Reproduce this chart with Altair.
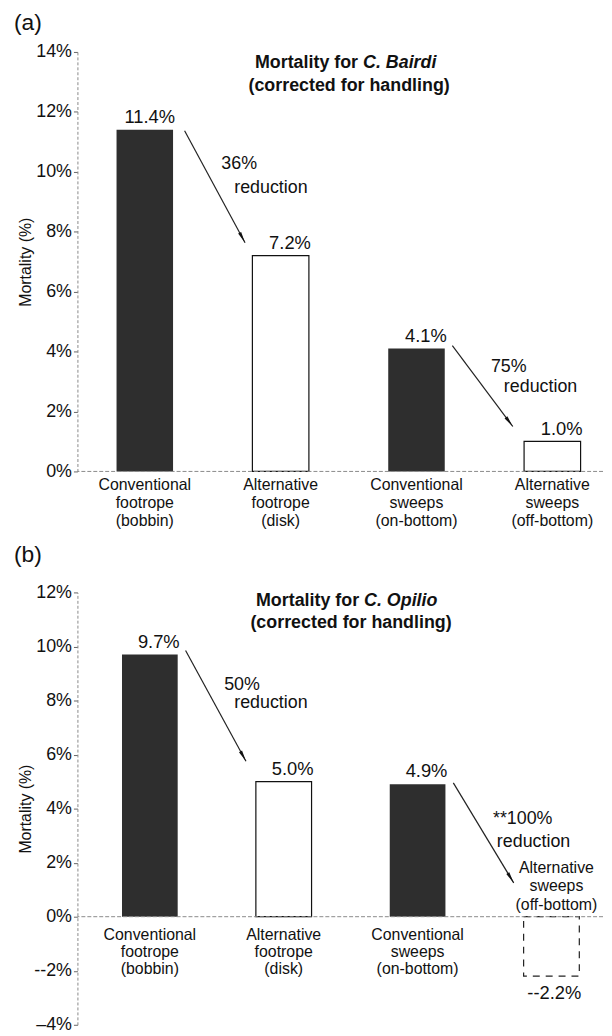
import math
import altair as alt
import pandas as pd

FONT = "Liberation Sans"
INK = "#111111"

# ---------------- data ----------------
categories = [
    "Conventional\nfootrope\n(bobbin)",
    "Alternative\nfootrope\n(disk)",
    "Conventional\nsweeps\n(on-bottom)",
    "Alternative\nsweeps\n(off-bottom)",
]
gear_type = ["Conventional", "Alternative", "Conventional", "Alternative"]

bairdi_values = [11.4, 7.2, 4.1, 1.0]
bairdi_labels = ["11.4%", "7.2%", "4.1%", "1.0%"]
opilio_values = [9.7, 5.0, 4.9, -2.2]
opilio_labels = ["9.7%", "5.0%", "4.9%", "--2.2%"]

bairdi_ticks = [0, 2, 4, 6, 8, 10, 12, 14]
bairdi_tick_labels = ["0%", "2%", "4%", "6%", "8%", "10%", "12%", "14%"]
opilio_ticks = [-4, -2, 0, 2, 4, 6, 8, 10, 12]
opilio_tick_labels = ["\u20134%", "--2%", "0%", "2%", "4%", "6%", "8%", "10%", "12%"]

# annotation arrows (data units: category index, percent)
bairdi_arrow_start_x = [0.293, 2.264]
bairdi_arrow_start_y = [11.37, 4.2]
bairdi_arrow_end_x = [0.738, 2.709]
bairdi_arrow_end_y = [7.63, 1.5]
bairdi_notes = ["36%", "reduction", "75%", "reduction"]
bairdi_note_x = [0.563, 0.658, 2.548, 2.643]
bairdi_note_y = [10.27, 9.47, 3.47, 2.8]

opilio_arrow_start_x = [0.267, 2.267]
opilio_arrow_start_y = [9.85, 4.95]
opilio_arrow_end_x = [0.718, 2.718]
opilio_arrow_end_y = [5.75, 1.25]
opilio_notes = ["50%", "reduction", "**100%", "reduction"]
opilio_note_x = [0.555, 0.63, 2.563, 2.592]
opilio_note_y = [8.58, 7.92, 3.6, 2.78]

# inner titles: (line1 left part, italic species, line2, split x, line1 y, centre x, line2 y)
bairdi_title = ("Mortality for", "C. Bairdi", "(corrected for handling)", 1.570, 13.63, 1.504, 12.87)
opilio_title = ("Mortality for", "C. Opilio", "(corrected for handling)", 1.563, 11.68, 1.503, 10.88)

HALF_BAR = 0.208


def make_panel(values, labels, ticks, tick_labels, xdom, ydom, W, H,
               arrows, notes, title, letter, line_h, cat_dy, title_x, letter_offset):
    df = pd.DataFrame({
        "pos": list(range(len(categories))),
        "category": categories,
        "gear": gear_type,
        "value": values,
        "label": labels,
    })
    xs = alt.Scale(domain=xdom, nice=False, zero=False)
    ys = alt.Scale(domain=ydom, nice=False, zero=False)
    expr = " : ".join(f"datum.value == {v} ? '{t}'" for v, t in zip(ticks, tick_labels)) + " : ''"
    yaxis = alt.Axis(
        values=ticks, labelExpr=expr, grid=False,
        domainColor="#8a8a8a", domainDash=[3, 2], domainWidth=1,
        tickColor="#666666", tickSize=4, tickWidth=1,
        labelFontSize=18, labelColor=INK, labelPadding=2, labelFont=FONT,
        title="Mortality (%)", titleFontSize=16, titleFontWeight="normal",
        titleColor=INK, titleFont=FONT, titleX=title_x, titleBaseline="middle",
    )

    def X(f):
        return alt.X(field=f, type="quantitative", scale=xs, axis=None)

    def Y(f):
        return alt.Y(field=f, type="quantitative", scale=ys, axis=yaxis)

    base = alt.Chart(df).transform_calculate(
        x1=f"datum.pos - {HALF_BAR}", x2=f"datum.pos + {HALF_BAR}"
    )

    dark = base.transform_filter("datum.gear == 'Conventional'").mark_rect(
        fill="#2e2e2e"
    ).encode(x=X("x1"), x2="x2", y=Y("value"), y2=alt.datum(0))
    white = base.transform_filter("datum.gear == 'Alternative' && datum.value >= 0").mark_rect(
        fill="white", stroke=INK, strokeWidth=1.2
    ).encode(x=X("x1"), x2="x2", y=Y("value"), y2=alt.datum(0))
    dashed = base.transform_filter("datum.gear == 'Alternative' && datum.value < 0").mark_rect(
        fill="white", stroke="#222222", strokeWidth=1.2, strokeDash=[7, 6]
    ).encode(x=X("x1"), x2="x2", y=Y("value"), y2=alt.datum(0))

    zero = alt.Chart(pd.DataFrame({"z": [0]})).mark_rule(
        color="#8a8a8a", strokeDash=[4, 2], strokeWidth=1
    ).encode(y=Y("z"))

    vlab_pos = base.transform_filter("datum.value >= 0").mark_text(
        align="right", baseline="alphabetic", dx=2, dy=-7, fontSize=18.5, font=FONT, color=INK
    ).encode(x=X("x2"), y=Y("value"), text="label:N")
    vlab_neg = base.transform_filter("datum.value < 0").mark_text(
        align="right", baseline="top", dx=2, dy=8, fontSize=18.5, font=FONT, color=INK
    ).encode(x=X("x2"), y=Y("value"), text="label:N")

    cat_pos = base.transform_filter("datum.value >= 0").mark_text(
        align="center", baseline="top", dy=cat_dy, lineBreak="\n", lineHeight=line_h,
        fontSize=16, font=FONT, color=INK
    ).encode(x=X("pos"), y=alt.datum(0), text="category:N")
    cat_neg = base.transform_filter("datum.value < 0").mark_text(
        align="center", baseline="bottom", dy=-41, dx=5, lineBreak="\n", lineHeight=18.5,
        fontSize=16, font=FONT, color=INK
    ).encode(x=X("pos"), y=alt.datum(0), text="category:N")

    sx, sy, ex, ey = arrows
    kx = W / (xdom[1] - xdom[0])
    ky = H / (ydom[1] - ydom[0])
    angles = []
    for a, b, c, d in zip(sx, sy, ex, ey):
        dxp = (c - a) * kx
        dyp = -(d - b) * ky
        angles.append(math.degrees(math.atan2(dxp, -dyp)) % 360)
    adf = pd.DataFrame({"x": sx, "y": sy, "xe": ex, "ye": ey, "angle": angles})
    arrow_lines = alt.Chart(adf).mark_rule(color="#222222", strokeWidth=1.2).encode(
        x=X("x"), y=Y("y"), x2="xe", y2="ye"
    )
    arrow_heads = alt.Chart(adf).mark_point(
        shape="M0,0L-0.32,2.1L0.32,2.1Z", filled=True, size=120, color="#111111", opacity=1
    ).encode(x=X("xe"), y=Y("ye"), angle=alt.Angle("angle:Q", scale=None))

    ntext, nx, ny = notes
    ndf = pd.DataFrame({"t": ntext, "x": nx, "y": ny})
    note_layer = alt.Chart(ndf).mark_text(
        align="left", baseline="middle", fontSize=18, font=FONT, color=INK
    ).encode(x=X("x"), y=Y("y"), text="t:N")

    t1, t1i, t2, tsx, ty1, tcx, ty2 = title
    tdf = pd.DataFrame({"a": [t1], "b": [t1i], "c": [t2], "sx": [tsx], "y1": [ty1], "cx": [tcx], "y2": [ty2]})
    tA = alt.Chart(tdf).mark_text(align="right", baseline="middle", fontSize=18, fontWeight="bold",
                                  font=FONT, color=INK).encode(x=X("sx"), y=Y("y1"), text="a:N")
    tB = alt.Chart(tdf).mark_text(align="left", baseline="middle", dx=5, fontSize=18, fontWeight="bold",
                                  fontStyle="italic", font=FONT, color=INK).encode(x=X("sx"), y=Y("y1"), text="b:N")
    tC = alt.Chart(tdf).mark_text(align="center", baseline="middle", fontSize=18, fontWeight="bold",
                                  font=FONT, color=INK).encode(x=X("cx"), y=Y("y2"), text="c:N")

    return alt.layer(
        dark, white, dashed, zero, vlab_pos, vlab_neg, cat_pos, cat_neg,
        arrow_lines, arrow_heads, note_layer, tA, tB, tC
    ).properties(
        width=W, height=H,
        title=alt.TitleParams(letter, anchor="start", fontSize=23, fontWeight="normal",
                              font=FONT, color=INK, offset=letter_offset, dx=-4),
    )


panel_a = make_panel(
    bairdi_values, bairdi_labels, bairdi_ticks, bairdi_tick_labels,
    [-0.496, 3.373], [0, 14], 530, 423,
    (bairdi_arrow_start_x, bairdi_arrow_start_y, bairdi_arrow_end_x, bairdi_arrow_end_y),
    (bairdi_notes, bairdi_note_x, bairdi_note_y),
    bairdi_title, "(a)", 18, 6, -52, 8,
)
panel_b = make_panel(
    opilio_values, opilio_labels, opilio_ticks, opilio_tick_labels,
    [-0.541, 3.385], [-4, 12], 530, 436,
    (opilio_arrow_start_x, opilio_arrow_start_y, opilio_arrow_end_x, opilio_arrow_end_y),
    (opilio_notes, opilio_note_x, opilio_note_y),
    opilio_title, "(b)", 17, 11, -52, 17,
)

chart = alt.vconcat(panel_a, panel_b, spacing=15).properties(
    padding={"left": 6, "top": 0, "right": 0, "bottom": 0}
).configure_view(stroke=None)

chart.save("out.html", embed_options={"renderer": "svg", "actions": False})
